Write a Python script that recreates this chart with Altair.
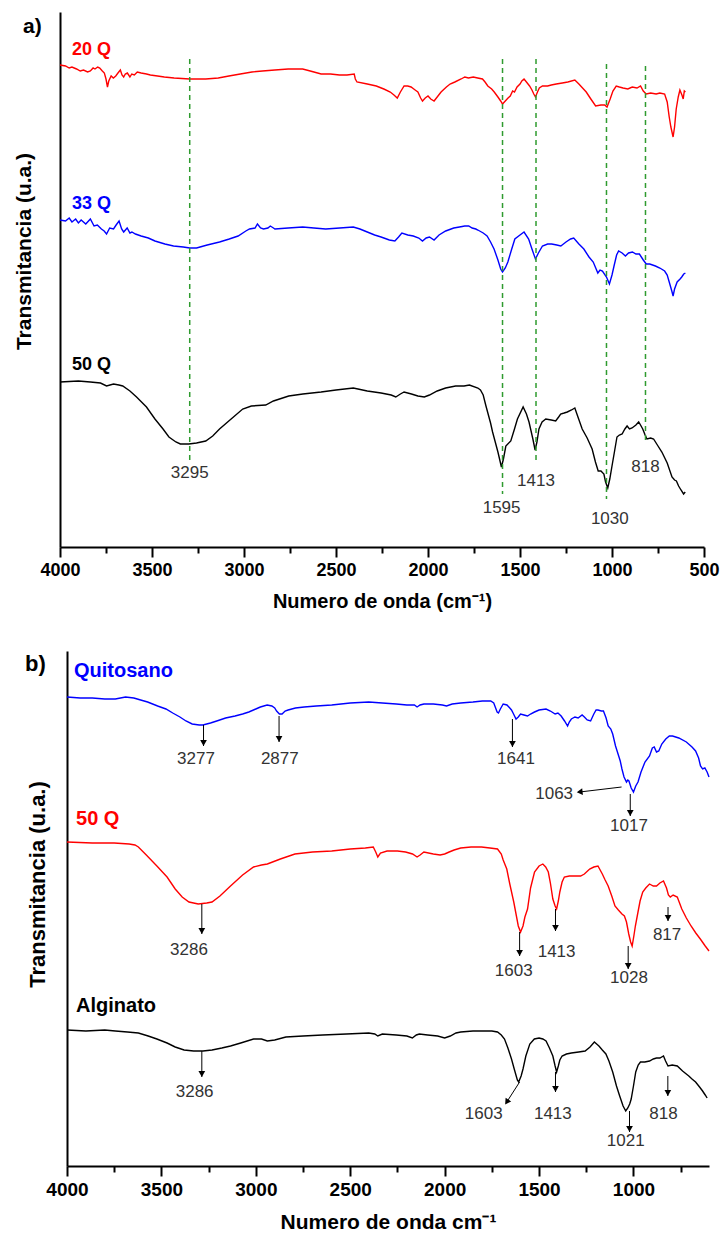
import altair as alt
import pandas as pd

# ---------------------------------------------------------------------------
# Panel a: FTIR spectra of the beads (20 Q, 33 Q, 50 Q), arbitrary units
# ---------------------------------------------------------------------------
A_SERIES = ["20 Q", "33 Q", "50 Q"]
A_COLORS = ["#ff0000", "#0000ff", "#000000"]

wn_20q = [4000, 3970, 3950, 3935, 3910, 3890, 3872, 3850, 3835, 3820, 3810, 3795, 3784, 3770,
          3759, 3750, 3742, 3735, 3722, 3710, 3697, 3685, 3672, 3663, 3654, 3645, 3634, 3620,
          3610, 3596, 3580, 3559, 3530, 3509, 3470, 3433, 3380, 3295, 3208, 3140, 3082, 3020,
          2957, 2900, 2832, 2760, 2681, 2640, 2600, 2581, 2530, 2481, 2440, 2401, 2395, 2386,
          2330, 2281, 2240, 2205, 2185, 2167, 2150, 2130, 2110, 2092, 2070, 2055, 2040, 2030,
          2015, 2000, 1985, 1967, 1950, 1929, 1900, 1880, 1854, 1820, 1800, 1780, 1754, 1730,
          1704, 1690, 1675, 1654, 1640, 1620, 1605, 1595, 1580, 1565, 1553, 1540, 1530, 1516,
          1500, 1490, 1478, 1465, 1448, 1435, 1425, 1416, 1405, 1395, 1378, 1350, 1330, 1303,
          1270, 1240, 1202, 1180, 1160, 1140, 1115, 1089, 1060, 1040, 1027, 1010, 995, 977,
          960, 940, 914, 890, 864, 845, 830, 814, 790, 760, 740, 714, 700, 689, 680, 668, 660,
          651, 640, 631, 620, 613, 607, 601]
t_20q = [482, 481, 479, 480, 478, 476, 477, 475, 476, 479, 478, 480, 479, 476,
         474, 468, 460, 466, 471, 469, 471, 474, 477, 472, 470, 473, 474, 470,
         473, 472, 475, 474, 473, 472, 471, 470, 469, 468, 468, 469, 471, 473,
         475, 476, 477, 478, 478, 476, 474, 473, 473, 472, 472, 473, 468, 465,
         463, 461, 458, 455, 452, 449, 455, 461, 461, 460, 457, 455, 449, 446,
         449, 451, 448, 446, 450, 455, 460, 463, 465, 468, 470, 469, 470, 469,
         468, 465, 461, 458, 455, 450, 446, 443, 446, 449, 451, 456, 455, 460,
         463, 466, 468, 465, 461, 457, 453, 450, 455, 459, 461, 461, 462, 463,
         464, 465, 467, 463, 459, 455, 448, 441, 442, 442, 440, 448, 456, 461,
         460, 459, 458, 460, 459, 461, 456, 453, 454, 453, 454, 453, 445, 430, 420, 410, 420,
         438, 450, 457, 452, 448, 456, 455]

wn_33q = [4000, 3970, 3950, 3935, 3915, 3900, 3885, 3860, 3835, 3815, 3797, 3775, 3760, 3747,
          3730, 3709, 3695, 3679, 3665, 3654, 3635, 3620, 3609, 3590, 3559, 3520, 3484, 3430,
          3383, 3330, 3295, 3258, 3200, 3133, 3080, 3032, 2990, 2970, 2940, 2927, 2910, 2894,
          2870, 2857, 2840, 2832, 2760, 2681, 2620, 2556, 2480, 2406, 2370, 2330, 2290, 2255,
          2210, 2180, 2160, 2142, 2110, 2080, 2050, 2030, 2010, 1992, 1967, 1940, 1904, 1860,
          1829, 1800, 1779, 1760, 1740, 1729, 1700, 1679, 1660, 1641, 1620, 1605, 1595, 1580,
          1566, 1545, 1528, 1500, 1478, 1453, 1435, 1416, 1400, 1378, 1350, 1328, 1300, 1278,
          1250, 1225, 1208, 1180, 1153, 1125, 1102, 1077, 1065, 1052, 1030, 1014, 1000, 989,
          975, 964, 945, 927, 910, 889, 870, 851, 830, 814, 795, 764, 740, 714, 700, 689, 675,
          668, 660, 646, 630, 621, 610, 601]
t_33q = [327, 326, 329, 325, 328, 324, 327, 323, 328, 321, 322, 318, 316, 313,
         319, 318, 322, 326, 318, 315, 319, 314, 315, 313, 311, 309, 306, 303,
         301, 300, 299, 299, 302, 305, 308, 311, 316, 318, 319, 323, 319, 318,
         319, 321, 319, 318, 319, 320, 319, 318, 319, 320, 318, 315, 312, 310,
         307, 306, 310, 314, 312, 311, 309, 306, 309, 310, 307, 312, 316, 319,
         320, 321, 321, 319, 318, 317, 314, 311, 305, 298, 287, 278, 275, 279,
         285, 298, 308, 312, 315, 308, 298, 288, 294, 301, 303, 303, 302, 301,
         305, 308, 309, 303, 298, 290, 285, 274, 277, 276, 270, 263, 272, 281,
         292, 296, 294, 291, 294, 295, 293, 293, 287, 283, 283, 281, 279, 276, 272, 265, 256,
         251, 258, 265, 268, 270, 273, 274]

wn_50q = [4000, 3900, 3835, 3780, 3747, 3709, 3680, 3659, 3620, 3584, 3530, 3484, 3440, 3408,
          3370, 3346, 3300, 3258, 3208, 3170, 3133, 3070, 3007, 2960, 2882, 2840, 2757, 2680,
          2581, 2500, 2406, 2330, 2255, 2200, 2175, 2150, 2130, 2090, 2055, 2020, 1992, 1950,
          1904, 1850, 1804, 1775, 1729, 1715, 1700, 1685, 1660, 1649, 1620, 1601, 1590, 1577,
          1550, 1530, 1514, 1483, 1465, 1451, 1430, 1418, 1408, 1397, 1380, 1360, 1330, 1306,
          1290, 1279, 1260, 1243, 1220, 1202, 1185, 1162, 1135, 1108, 1090, 1075, 1060, 1044,
          1035, 1023, 1012, 1000, 985, 973, 960, 945, 930, 918, 905, 891, 870, 855, 845, 833,
          820, 810, 790, 774, 750, 729, 700, 674, 660, 650, 638, 625, 611, 602]
t_50q = [165, 166, 165, 164, 161, 163, 162, 161, 156, 150, 140, 128, 118, 110,
         105, 103, 103, 104, 106, 111, 118, 128, 138, 141, 142, 146, 151, 153,
         155, 157, 159, 156, 154, 152, 150, 153, 155, 153, 151, 150, 152, 156,
         159, 161, 161, 162, 159, 157, 152, 141, 124, 115, 95, 80, 88, 101,
         106, 118, 128, 140, 133, 125, 108, 97, 105, 118, 125, 128, 127, 126,
         130, 133, 134, 135, 137, 139, 130, 118, 109, 98, 85, 76, 76, 73,
         65, 59, 68, 81, 97, 110, 112, 113, 118, 121, 118, 119, 122, 125, 122, 118,
         112, 108, 109, 108, 101, 95, 84, 70, 67, 66, 61, 57, 53, 55]

# dashed guides at the characteristic bands of panel a
a_peak_wn = [3295, 1595, 1413, 1030, 818]
a_peak_top = [488, 488, 488, 483, 481]
a_peak_bottom = [85, 53, 85, 48, 105]
a_label_wn = [3295, 1600, 1413, 1012, 818]
a_label_t = [74, 39, 66, 28, 80]

# series names of panel a
a_name_wn = [3935, 3935, 3935]
a_name_t = [497, 343, 182]

# ---------------------------------------------------------------------------
# Panel b: chitosan, 50 Q beads and alginate
# ---------------------------------------------------------------------------
B_SERIES = ["Quitosano", "50 Q", "Alginato"]
B_COLORS = ["#0000ff", "#ff0000", "#000000"]

wn_quit = [4000, 3930, 3866, 3800, 3744, 3690, 3646, 3610, 3573, 3520, 3476, 3440, 3402, 3370,
           3337, 3300, 3280, 3240, 3207, 3160, 3110, 3070, 3037, 3000, 2976, 2940, 2915, 2900,
           2890, 2875, 2861, 2845, 2829, 2790, 2744, 2680, 2598, 2500, 2402, 2330, 2256, 2200,
           2160, 2146, 2130, 2110, 2060, 2012, 1990, 1960, 1915, 1850, 1800, 1756, 1740, 1732,
           1722, 1715, 1705, 1690, 1670, 1655, 1646, 1635, 1622, 1610, 1598, 1580, 1561, 1545,
           1524, 1500, 1463, 1440, 1415, 1400, 1383, 1365, 1349, 1340, 1329, 1310, 1293, 1272,
           1260, 1245, 1227, 1210, 1198, 1188, 1170, 1159, 1145, 1134, 1120, 1110, 1095, 1085,
           1070, 1061, 1050, 1037, 1030, 1024, 1012, 1000, 988, 976, 960, 939, 915, 900, 890,
           878, 866, 850, 829, 810, 793, 760, 720, 690, 671, 655, 645, 634, 622, 610, 600]
t_quit = [469, 468, 468, 467, 467, 469, 468, 466, 464, 460, 457, 453, 449, 445,
          442, 441, 441, 443, 445, 448, 450, 452, 454, 457, 459, 461, 460, 458,
          455, 452, 452, 455, 456, 458, 459, 460, 461, 463, 464, 463, 462, 461,
          461, 459, 461, 462, 462, 461, 460, 462, 463, 464, 465, 465, 463, 459,
          454, 453, 457, 462, 461, 458, 456, 452, 447, 449, 452, 451, 450, 452,
          454, 456, 457, 455, 452, 453, 450, 445, 440, 444, 447, 449, 448, 451,
          449, 446, 445, 452, 456, 456, 455, 455, 448, 440, 437, 432, 420, 414,
          405, 397, 389, 384, 386, 385, 378, 374, 380, 384, 394, 404, 410, 418, 419,
          414, 415, 422, 427, 430, 430, 428, 424, 419, 415, 408, 400, 397, 398, 394, 389]

wn_50qb = [4000, 3866, 3750, 3671, 3640, 3622, 3580, 3524, 3470, 3427, 3390, 3354, 3305, 3260,
           3232, 3190, 3134, 3070, 3012, 2970, 2939, 2870, 2793, 2700, 2598, 2500, 2420, 2378,
           2365, 2354, 2340, 2305, 2250, 2207, 2170, 2146, 2130, 2110, 2060, 2024, 2000, 1976,
           1950, 1915, 1860, 1805, 1760, 1720, 1700, 1690, 1671, 1655, 1634, 1620, 1610, 1598,
           1585, 1575, 1561, 1545, 1524, 1500, 1480, 1465, 1451, 1440, 1427, 1415, 1407, 1398,
           1390, 1378, 1366, 1340, 1310, 1280, 1260, 1232, 1210, 1188, 1165, 1150, 1134, 1115,
           1098, 1080, 1061, 1048, 1037, 1025, 1015, 1007, 998, 990, 976, 965, 951, 935, 915,
           895, 878, 860, 841, 825, 815, 805, 790, 768, 744, 720, 695, 670, 646, 620, 600]
t_50qb = [324, 323, 323, 322, 321, 319, 311, 300, 289, 277, 269, 264, 262, 263,
          264, 270, 280, 291, 299, 301, 302, 307, 312, 314, 315, 317, 318, 319,
          314, 309, 313, 315, 315, 314, 312, 309, 311, 314, 312, 311, 312, 314,
          316, 318, 319, 319, 318, 317, 312, 306, 297, 282, 264, 250, 240, 234,
          240, 249, 257, 278, 294, 300, 302, 299, 294, 283, 267, 260, 257, 265,
          274, 284, 289, 290, 290, 290, 292, 297, 299, 300, 292, 286, 280, 270,
          260, 256, 252, 250, 244, 232, 224, 220, 230, 240, 254, 265, 274, 278, 282,
          280, 280, 283, 285, 278, 271, 269, 271, 269, 257, 248, 240, 233, 227, 220, 215]

wn_alg = [4000, 3900, 3800, 3744, 3680, 3622, 3570, 3524, 3470, 3427, 3380, 3329, 3280, 3232,
          3180, 3134, 3080, 3012, 2970, 2939, 2900, 2841, 2750, 2646, 2520, 2402, 2370, 2354,
          2330, 2256, 2200, 2171, 2150, 2134, 2090, 2037, 2000, 1970, 1940, 1915, 1850, 1793,
          1750, 1720, 1700, 1683, 1665, 1646, 1630, 1615, 1608, 1595, 1585, 1570, 1549, 1525,
          1500, 1480, 1463, 1445, 1427, 1415, 1407, 1398, 1390, 1378, 1355, 1329, 1290, 1256,
          1230, 1207, 1195, 1183, 1165, 1146, 1130, 1110, 1090, 1073, 1055, 1041, 1030, 1020,
          1012, 1000, 988, 975, 963, 940, 915, 895, 878, 860, 841, 830, 817, 795, 768, 740,
          707, 690, 671, 650, 634, 620, 610]
t_alg = [136, 135, 136, 135, 134, 133, 130, 127, 123, 119, 116, 115, 115, 116,
         118, 120, 123, 127, 127, 125, 126, 129, 130, 131, 132, 133, 132, 130,
         132, 131, 130, 128, 131, 132, 131, 130, 128, 130, 133, 134, 135, 135,
         135, 134, 131, 127, 118, 107, 96, 86, 84, 90, 97, 110, 122, 127,
         128, 127, 125, 118, 110, 100, 94, 100, 106, 110, 112, 113, 114, 115,
         119, 124, 122, 120, 116, 112, 105, 94, 80, 70, 60, 55, 58, 62,
         67, 80, 94, 101, 104, 104, 105, 107, 108, 108, 110, 105, 100, 101, 100, 95,
         90, 87, 84, 79, 75, 71, 68]

# vertical arrows of panel b (start on the band, tip below it)
b_arrow_wn = [3277, 2877, 1641, 1017, 3286, 1603, 1413, 1028, 817, 3286, 1413, 1021, 818]
b_arrow_top = [441, 450, 447, 372, 262, 234, 257, 220, 259, 115, 94, 55, 90]
b_arrow_tip = [420, 424, 419, 350, 232, 210, 235, 197, 245, 89, 74, 34, 70]
b_label_wn = [3317, 2873, 1622, 1024, 3354, 1634, 1407, 1024, 822, 3324, 1427, 1041, 841]
b_label_t = [407, 407, 407, 340, 216, 195, 214, 188, 231, 74, 52, 25, 52]

# oblique arrows of panel b: 1063 (chitosan shoulder) and 1603 (alginate)
b_diag_wn = [1063, 1603]
b_diag_t = [379, 84]
b_diag_wn_end = [1285, 1671]
b_diag_t_end = [374, 64]
b_diag_label_wn = [1420, 1793]
b_diag_label_t = [372, 52]

# series names of panel b
b_name_wn = [3963, 3952, 3952]
b_name_t = [495, 347, 160]

FONT = "Liberation Sans"
GUIDE_GREEN = "#2f9b2f"
LABEL_GREY = "#333333"


def spectra_frame(names, wns, ts):
    parts = [pd.DataFrame({"wn": w, "t": t, "serie": n}) for n, w, t in zip(names, wns, ts)]
    return pd.concat(parts, ignore_index=True)


def x_axis(title, ticks, label_size, title_size, label_pad, title_pad):
    return alt.Axis(
        title=title, values=ticks, format="d",
        labelExpr="datum.value % 500 === 0 ? datum.label : ''",
        tickSize={"condition": {"test": "datum.value % 500 === 0", "value": 10}, "value": 6},
        tickWidth=2, tickColor="black", domainColor="black", domainWidth=2,
        labelFontSize=label_size, labelFontWeight="bold", labelColor="black",
        labelPadding=label_pad, labelFlush=False, labelOverlap=False,
        titleFontSize=title_size, titleFontWeight="bold", titleColor="black",
        titlePadding=title_pad, grid=False,
    )


def y_axis(title_size, title_pad, title_y):
    return alt.Axis(
        title="Transmitancia (u.a.)", ticks=False, labels=False, grid=False,
        domainColor="black", domainWidth=2, minExtent=0,
        titleFontSize=title_size, titleFontWeight="bold", titleColor="black",
        titlePadding=title_pad, titleY=title_y,
    )


def panel_letter(letter, dx, dy, size):
    # panel tag drawn just left of the plot area, near its top
    return alt.Chart(pd.DataFrame({"tag": [letter]})).mark_text(
        font=FONT, fontSize=size, fontWeight="bold", color="black", align="left", baseline="middle"
    ).encode(x=alt.value(dx), y=alt.value(dy), text="tag:N")


# ------------------------------ panel a ------------------------------------
df_a = spectra_frame(A_SERIES, [wn_20q, wn_33q, wn_50q], [t_20q, t_33q, t_50q])
col_a = alt.Scale(domain=A_SERIES, range=A_COLORS)
# every layer shares exactly the same positional encodings (and hence axes)
XA = alt.X("wn:Q", scale=alt.Scale(domain=[4000, 500], nice=False, zero=False),
           axis=x_axis("Numero de onda (cm⁻¹)", list(range(4000, 499, -250)), 18, 20, 4, 12))
YA = alt.Y("t:Q", scale=alt.Scale(domain=[0, 535], nice=False, zero=False),
           axis=y_axis(21, 26, 239))

lines_a = alt.Chart(df_a).mark_line(strokeWidth=1.4).encode(
    x=XA, y=YA, color=alt.Color("serie:N", scale=col_a, legend=None))

guides_a = alt.Chart(pd.DataFrame({"wn": a_peak_wn, "t": a_peak_top, "t2": a_peak_bottom})).mark_rule(
    color=GUIDE_GREEN, strokeDash=[5, 4], strokeWidth=1.5
).encode(x=XA, y=YA, y2="t2:Q")

peaks_a = alt.Chart(pd.DataFrame({
    "wn": a_label_wn, "t": a_label_t, "label": [str(v) for v in a_peak_wn]
})).mark_text(font=FONT, fontSize=17, color=LABEL_GREY, align="center", baseline="middle").encode(
    x=XA, y=YA, text="label:N")

names_a = alt.Chart(pd.DataFrame({"wn": a_name_wn, "t": a_name_t, "serie": A_SERIES})).mark_text(
    font=FONT, fontSize=18, fontWeight="bold", align="left", baseline="middle"
).encode(x=XA, y=YA, text="serie:N", color=alt.Color("serie:N", scale=col_a, legend=None))

panel_a = alt.layer(
    lines_a, guides_a, peaks_a, names_a, panel_letter("a)", -37, 15, 21)
).properties(width=644, height=535)

# ------------------------------ panel b ------------------------------------
df_b = spectra_frame(B_SERIES, [wn_quit, wn_50qb, wn_alg], [t_quit, t_50qb, t_alg])
col_b = alt.Scale(domain=B_SERIES, range=B_COLORS)
XB = alt.X("wn:Q", scale=alt.Scale(domain=[4000, 600], nice=False, zero=False),
           axis=x_axis("Numero de onda cm⁻¹", list(range(4000, 599, -250)), 19, 21, 4, 12))
YB = alt.Y("t:Q", scale=alt.Scale(domain=[0, 515], nice=False, zero=False),
           axis=y_axis(22, 18, 233))

lines_b = alt.Chart(df_b).mark_line(strokeWidth=1.4).encode(
    x=XB, y=YB, color=alt.Color("serie:N", scale=col_b, legend=None))

shafts_b = alt.Chart(pd.DataFrame({"wn": b_arrow_wn, "t": b_arrow_top, "t2": b_arrow_tip})).mark_rule(
    color="black", strokeWidth=1).encode(x=XB, y=YB, y2="t2:Q")
heads_b = alt.Chart(pd.DataFrame({"wn": b_arrow_wn, "t": b_arrow_tip})).mark_point(
    shape="triangle-down", filled=True, size=45, color="black", opacity=1, yOffset=-3
).encode(x=XB, y=YB)

diag_b = alt.Chart(pd.DataFrame({
    "wn": b_diag_wn, "t": b_diag_t, "wn2": b_diag_wn_end, "t2": b_diag_t_end
})).mark_rule(color="black", strokeWidth=1).encode(x=XB, x2="wn2:Q", y=YB, y2="t2:Q")
head_left = alt.Chart(pd.DataFrame({"wn": b_diag_wn_end[:1], "t": b_diag_t_end[:1]})).mark_point(
    shape="triangle-left", filled=True, size=45, color="black", opacity=1, angle=354
).encode(x=XB, y=YB)
head_down = alt.Chart(pd.DataFrame({"wn": b_diag_wn_end[1:], "t": b_diag_t_end[1:]})).mark_point(
    shape="triangle-down", filled=True, size=45, color="black", opacity=1, angle=34
).encode(x=XB, y=YB)

peaks_b = alt.Chart(pd.DataFrame({
    "wn": b_label_wn + b_diag_label_wn,
    "t": b_label_t + b_diag_label_t,
    "label": [str(v) for v in b_arrow_wn + b_diag_wn],
})).mark_text(font=FONT, fontSize=17, color=LABEL_GREY, align="center", baseline="middle").encode(
    x=XB, y=YB, text="label:N")

names_b = alt.Chart(pd.DataFrame({"wn": b_name_wn, "t": b_name_t, "serie": B_SERIES})).mark_text(
    font=FONT, fontSize=20, fontWeight="bold", align="left", baseline="middle"
).encode(x=XB, y=YB, text="serie:N", color=alt.Color("serie:N", scale=col_b, legend=None))

panel_b = alt.layer(
    lines_b, shafts_b, heads_b, diag_b, head_left, head_down, peaks_b, names_b,
    panel_letter("b)", -42, 13, 22),
).properties(width=642, height=515)

# small blank column that shifts panel b slightly to the right
spacer = alt.Chart(pd.DataFrame({"k": [0]})).mark_text(text="").properties(width=7, height=10)

bottom = alt.hconcat(spacer, panel_b, spacing=0, bounds="flush")

chart = (
    alt.vconcat(panel_a, bottom, spacing=104, bounds="flush")
    .resolve_scale(x="independent", y="independent", color="independent")
    .properties(padding={"left": 13, "top": 12, "right": 0, "bottom": 0})
    .configure(font=FONT)
    .configure_view(stroke=None)
)

chart.save("out.html", embed_options={"renderer": "svg", "actions": False})
